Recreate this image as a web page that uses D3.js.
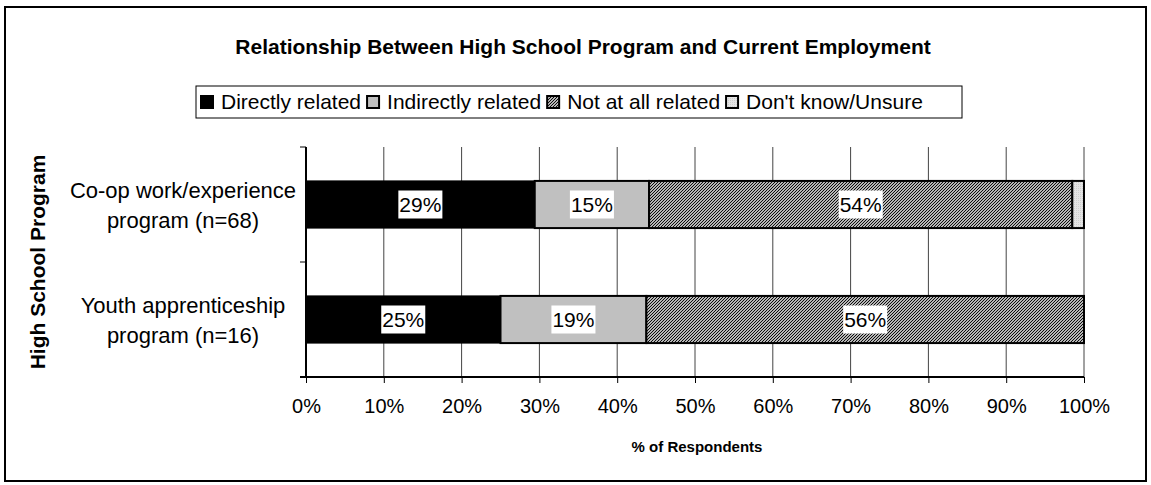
<!DOCTYPE html>
<html><head><meta charset="utf-8">
<script src="https://cdn.jsdelivr.net/npm/d3@7"></script>
<style>body{margin:0;background:#fff}svg{display:block;font-family:"Liberation Sans",Arial,sans-serif}</style>
</head><body><svg id="c" width="1151" height="485"></svg>
<script>
const categories = ["Co-op work/experience program (n=68)", "Youth apprenticeship program (n=16)"];
const categoryLines = [["Co-op work/experience", "program (n=68)"], ["Youth apprenticeship", "program (n=16)"]];
const seriesNames = ["Directly related", "Indirectly related", "Not at all related", "Don't know/Unsure"];
const directly = [29.4, 25.0];
const indirectly = [14.7, 18.75];
const notAtAll = [54.4, 56.25];
const dontKnow = [1.5, 0];
const labels = [["29%", "15%", "54%", null], ["25%", "19%", "56%", null]];
const xTicks = [0,10,20,30,40,50,60,70,80,90,100];

const svg = d3.select("#c");
const defs = svg.append("defs");
const hp = defs.append("pattern").attr("id","hatch").attr("patternUnits","userSpaceOnUse").attr("width",3).attr("height",3);
hp.append("rect").attr("width",3).attr("height",3).attr("fill","#fff");
hp.append("path").attr("d","M-1,1 l2,-2 M0,3 l3,-3 M2,4 l2,-2").attr("stroke","#000").attr("stroke-width",1.1);
const dp = defs.append("pattern").attr("id","dots").attr("patternUnits","userSpaceOnUse").attr("width",2).attr("height",2);
dp.append("rect").attr("width",2).attr("height",2).attr("fill","#e4e4e4");
dp.append("rect").attr("width",1).attr("height",1).attr("fill","#cfcfcf");
const fills = ["#000", "#c0c0c0", "url(#hatch)", "url(#dots)"];

// outer border
svg.append("rect").attr("x",5).attr("y",7).attr("width",1141).attr("height",474).attr("fill","none").attr("stroke","#000").attr("stroke-width",2);

const m = {l:306, r:1084, t:147, b:377};
const x = d3.scaleLinear().domain([0,100]).range([m.l, m.r]);
const y = d3.scaleBand().domain(categories).range([m.t, m.b]).paddingInner(0.59).paddingOuter(0.295);

// title
svg.append("text").attr("x",583).attr("y",54).attr("text-anchor","middle").attr("font-weight","bold").attr("font-size",21).text("Relationship Between High School Program and Current Employment");

// gridlines
svg.append("g").selectAll("line").data(xTicks.slice(1)).join("line")
  .attr("x1",d=>x(d)).attr("x2",d=>x(d)).attr("y1",m.t).attr("y2",m.b).attr("stroke","#444").attr("stroke-width",1);

// stacked bars
const rows = categories.map((c,i)=>({cat:c, vals:[directly[i], indirectly[i], notAtAll[i], dontKnow[i]]}));
const stack = d3.stack().keys([0,1,2,3]).value((d,k)=>d.vals[k]);
const series = stack(rows);
const g = svg.append("g");
series.forEach((s,k)=>{
  g.selectAll(null).data(s.filter(d=>d[1]-d[0]>0)).join("rect")
    .attr("x",d=>x(d[0])).attr("width",d=>x(d[1])-x(d[0]))
    .attr("y",d=>y(d.data.cat)).attr("height",y.bandwidth())
    .attr("fill",fills[k]).attr("stroke","#000").attr("stroke-width",k===0?1:2);
});
// data labels
series.forEach((s,k)=>{
  s.forEach((d,i)=>{
    const t = labels[i][k]; if(!t) return;
    const cx = (x(d[0])+x(d[1]))/2, cy = y(d.data.cat)+y.bandwidth()/2;
    const lg = svg.append("g");
    const tx = lg.append("text").attr("x",cx).attr("y",cy+7).attr("text-anchor","middle").attr("font-size",21).text(t);
    const bb = tx.node().getBBox();
    lg.insert("rect","text").attr("x",bb.x-1).attr("y",cy-14).attr("width",bb.width+2).attr("height",28).attr("fill","#fff");
  });
});

// axes
const xa = svg.append("g").attr("transform",`translate(0,${m.b})`).call(d3.axisBottom(x).tickValues(xTicks).tickFormat(d=>d+"%").tickSize(6).tickPadding(16));
xa.select(".domain").attr("d",`M${m.l-6},0H${m.r}`).attr("stroke","#000").attr("stroke-width",2);
xa.selectAll(".tick line").attr("stroke","#000");
xa.selectAll("text").attr("font-size",20).attr("font-family","Liberation Sans, Arial, sans-serif").attr("fill","#000");
const ya = svg.append("g");
ya.append("line").attr("x1",m.l).attr("x2",m.l).attr("y1",m.t).attr("y2",m.b).attr("stroke","#000").attr("stroke-width",2);
ya.selectAll(".yt").data([m.t,(m.t+m.b)/2,m.b]).join("line").attr("class","yt")
  .attr("x1",m.l-6).attr("x2",m.l).attr("y1",d=>d).attr("y2",d=>d).attr("stroke","#000");
categories.forEach((c,i)=>{
  const cy = y(c)+y.bandwidth()/2;
  const t = svg.append("text").attr("x",183).attr("text-anchor","middle").attr("font-size",22);
  t.append("tspan").attr("x",183).attr("y",cy-7).text(categoryLines[i][0]);
  t.append("tspan").attr("x",183).attr("y",cy+23).text(categoryLines[i][1]);
});

// axis titles
svg.append("text").attr("x",697).attr("y",452).attr("text-anchor","middle").attr("font-weight","bold").attr("font-size",15).text("% of Respondents");
svg.append("text").attr("transform",`translate(45,262) rotate(-90)`).attr("text-anchor","middle").attr("font-weight","bold").attr("font-size",21).text("High School Program");

// legend
const leg = svg.append("g");
leg.append("rect").attr("x",196).attr("y",86).attr("width",766).attr("height",32).attr("fill","#fff").attr("stroke","#000").attr("stroke-width",1);
let lx = 201;
seriesNames.forEach((n,k)=>{
  leg.append("rect").attr("x",lx).attr("y",96).attr("width",12).attr("height",12).attr("fill",fills[k]).attr("stroke","#000").attr("stroke-width",2);
  const t = leg.append("text").attr("x",lx+20).attr("y",109).attr("font-size",21).text(n);
  lx += 20 + t.node().getComputedTextLength() + 6;
});
</script></body></html>
